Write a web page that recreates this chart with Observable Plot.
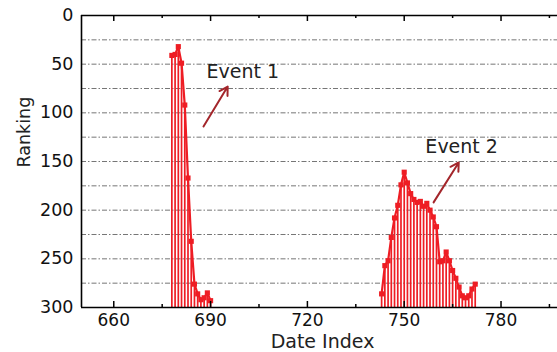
<!DOCTYPE html>
<html>
<head>
<meta charset="utf-8">
<script src="https://cdn.jsdelivr.net/npm/d3@7"></script>
<script src="https://cdn.jsdelivr.net/npm/@observablehq/plot@0.6"></script>
<style>
  html, body { margin: 0; padding: 0; background: #fff; }
  #chart svg { display: block; }
</style>
</head>
<body>
<div id="chart"></div>
<script>
// ---- data ----
const event1Index = [678, 679, 680, 681, 682, 683, 684, 685, 686, 687, 688, 689, 690];
const event1Rank  = [41, 40, 32, 49, 92, 167, 232, 276, 286, 292, 290, 285, 293];

const event2Index = [743, 744, 745, 746, 747, 748, 749, 750, 751, 752, 753, 754, 755, 756, 757,
                     758, 759, 760, 761, 762, 763, 764, 765, 766, 767, 768, 769, 770, 771, 772];
const event2Rank  = [286, 257, 252, 228, 208, 195, 174, 161, 172, 183, 189, 192, 191, 196, 193,
                     200, 207, 217, 253, 252, 243, 252, 262, 270, 279, 288, 290, 288, 281, 276];

const xMajorTicks = [660, 690, 720, 750, 780];
const xMinorTicks = [675, 705, 735, 765, 795];
const yMajorTicks = [0, 50, 100, 150, 200, 250, 300];
const yGrid = [25, 50, 75, 100, 125, 150, 175, 200, 225, 250, 275];

const labelNames = ["Event 1", "Event 2"];
const labelX = [700, 767.8];
const labelY = [57.5, 134.8];
const arrowFromX = [687.8, 759.1];
const arrowFromY = [114, 192];
const arrowToX = [695.3, 766.9];
const arrowToY = [73, 151];

// ---- build tables ----
const points = [
  ...event1Index.map((x, i) => ({event: "Event 1", index: x, rank: event1Rank[i]})),
  ...event2Index.map((x, i) => ({event: "Event 2", index: x, rank: event2Rank[i]}))
];
const labels = labelNames.map((t, i) => ({text: t, x: labelX[i], y: labelY[i]}));
const arrows = labelNames.map((t, i) => ({x1: arrowFromX[i], y1: arrowFromY[i], x2: arrowToX[i], y2: arrowToY[i]}));

const RED = "#ee1d24";
const baseline = 300;
const frameH = 292;

const chart = Plot.plot({
  width: 557,
  height: 352,
  marginLeft: 81,
  marginRight: 0,
  marginTop: 15,
  marginBottom: 45,
  style: {fontFamily: "DejaVu Sans", color: "#111", background: "#fff"},
  x: {domain: [650, 797.5]},
  y: {domain: [0, 300], reverse: true},
  marks: [
    Plot.ruleY(yGrid, {stroke: "#666", strokeWidth: 0.9, strokeDasharray: "5,2,1.5,2"}),
    // drop lines
    Plot.ruleX(points, {x: "index", y1: "rank", y2: baseline, stroke: RED, strokeWidth: 1.7}),
    // connecting line
    Plot.line(points, {x: "index", y: "rank", z: "event", stroke: RED, strokeWidth: 2.2}),
    Plot.dot(points, {x: "index", y: "rank", symbol: "square", r: 2.9, fill: RED, stroke: null}),
    // frame
    Plot.ruleX([650], {stroke: "#000", strokeWidth: 1.6}),
    Plot.ruleY([0, 300], {stroke: "#000", strokeWidth: 1.6}),
    // inward ticks bottom
    Plot.tickX(xMajorTicks, {stroke: "#000", strokeWidth: 1.5, insetTop: frameH - 6}),
    Plot.tickX(xMinorTicks, {stroke: "#000", strokeWidth: 1.5, insetTop: frameH - 3}),
    // inward ticks top
    Plot.tickX(xMajorTicks, {stroke: "#000", strokeWidth: 1.5, insetBottom: frameH - 6}),
    Plot.tickX(xMinorTicks, {stroke: "#000", strokeWidth: 1.5, insetBottom: frameH - 3}),
    Plot.axisY({ticks: yMajorTicks, tickSize: 0, tickPadding: 8, fontSize: 17.5, label: null}),
    Plot.axisX({ticks: xMajorTicks, tickSize: 0, tickPadding: 6, fontSize: 17, label: null}),
    Plot.text(["Date Index"], {frameAnchor: "bottom", dx: 3, dy: 40, fontSize: 19, fill: "#222"}),
    Plot.text(["Ranking"], {frameAnchor: "left", dx: -57, dy: 6, rotate: -90, fontSize: 17.5, fill: "#222"}),
    // annotations
    Plot.arrow(arrows, {x1: "x1", y1: "y1", x2: "x2", y2: "y2", stroke: "#a3262b", strokeWidth: 2, headLength: 7}),
    Plot.text(labels, {x: "x", y: "y", text: "text", fontSize: 19, fill: "#222"})
  ]
});
document.getElementById("chart").appendChild(chart);
</script>
</body>
</html>
